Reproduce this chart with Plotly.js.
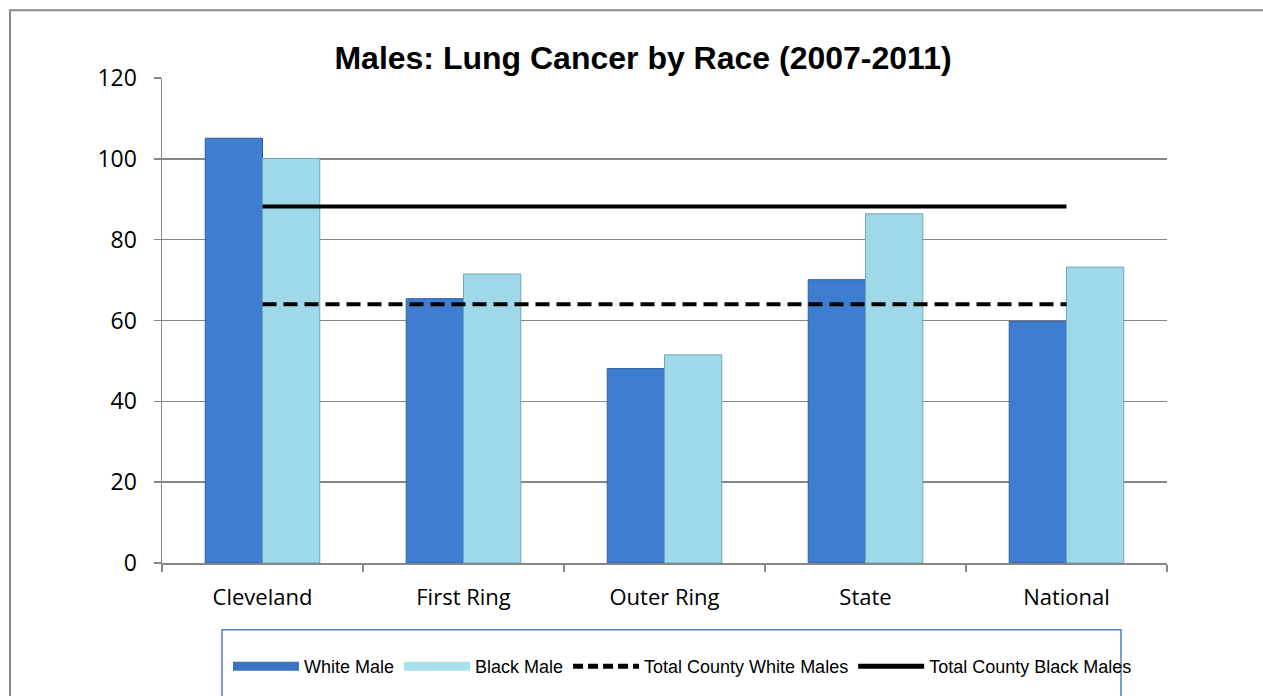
<!DOCTYPE html>
<html>
<head>
<meta charset="utf-8">
<script src="https://cdn.plot.ly/plotly-3.0.1.min.js"></script>
<style>
  html, body { margin: 0; padding: 0; background: #ffffff; }
  #chart { width: 1263px; height: 696px; }
</style>
</head>
<body>
<div id="chart"></div>
<script>
const categories = ["Cleveland", "First Ring", "Outer Ring", "State", "National"];
const whiteMale = [105.1, 65.4, 48.1, 70.1, 59.8];
const blackMale = [100.1, 71.5, 51.5, 86.4, 73.2];
const totalCountyWhite = 64.0;
const totalCountyBlack = 88.2;
const yTicks = [0, 20, 40, 60, 80, 100, 120];

const colWhite = "#3e7dd0";
const colBlack = "#9fd8e8";

const traces = [
  {
    type: "bar", name: "White Male", x: categories, y: whiteMale,
    marker: { color: colWhite, line: { color: "#2e5f9e", width: 1 } },
    showlegend: false, hoverinfo: "x+y"
  },
  {
    type: "bar", name: "Black Male", x: categories, y: blackMale,
    marker: { color: colBlack, line: { color: "#6fa8b8", width: 1 } },
    showlegend: false, hoverinfo: "x+y"
  },
  {
    type: "scatter", mode: "lines", name: "Total County White Males",
    x: categories, y: categories.map(() => totalCountyWhite),
    line: { color: "#000000", width: 4, dash: "14px,7px" },
    showlegend: false
  },
  {
    type: "scatter", mode: "lines", name: "Total County Black Males",
    x: categories, y: categories.map(() => totalCountyBlack),
    line: { color: "#000000", width: 4 },
    showlegend: false
  },
  // legend entries
  { type: "scatter", mode: "lines", name: "White Male", x: [null], y: [null],
    line: { color: "#3a74c2", width: 9 }, showlegend: true, hoverinfo: "skip" },
  { type: "scatter", mode: "lines", name: "Black Male", x: [null], y: [null],
    line: { color: "#a8e0ee", width: 9 }, showlegend: true, hoverinfo: "skip" },
  { type: "scatter", mode: "lines", name: "Total County White Males", x: [null], y: [null],
    line: { color: "#000000", width: 5, dash: "10px,5px" }, showlegend: true, hoverinfo: "skip" },
  { type: "scatter", mode: "lines", name: "Total County Black Males", x: [null], y: [null],
    line: { color: "#000000", width: 5 }, showlegend: true, hoverinfo: "skip" }
];

const L = 162, R = 96, T = 78, B = 132;
const pw = 1263 - L - R, ph = 696 - T - B;
const px = v => (v - L) / pw;
const py = v => (696 - B - v) / ph;

const layout = {
  width: 1263, height: 696,
  margin: { l: L, r: R, t: T, b: B, pad: 0 },
  paper_bgcolor: "#ffffff", plot_bgcolor: "#ffffff",
  title: {
    text: "<b>Males: Lung Cancer by Race (2007-2011)</b>",
    font: { family: "Liberation Sans, Arial, sans-serif", size: 32, color: "#000000" },
    xref: "paper", x: px(643), xanchor: "center",
    yref: "container", y: 1 - 58 / 696, yanchor: "middle"
  },
  barmode: "group", bargap: 0.43, bargroupgap: 0,
  xaxis: {
    type: "category",
    showline: true, linecolor: "#868686", linewidth: 1.5,
    ticks: "outside", tickson: "boundaries", ticklen: 7, tickcolor: "#868686", tickwidth: 1.5,
    showgrid: false, zeroline: false,
    ticklabelstandoff: 14,
    tickfont: { family: "Open Sans, sans-serif", size: 22, color: "#000000" }
  },
  yaxis: {
    range: [0, 120], tickvals: yTicks, ticktext: yTicks.map(String),
    showline: true, linecolor: "#868686", linewidth: 1.5,
    ticks: "outside", ticklen: 7, tickcolor: "#868686", tickwidth: 1.5,
    showgrid: true, gridcolor: "#868686", gridwidth: 1.5,
    zeroline: false,
    ticklabelstandoff: 12,
    tickfont: { family: "Open Sans, sans-serif", size: 23, color: "#000000" }
  },
  showlegend: true,
  legend: {
    orientation: "h", x: px(228), xanchor: "left", y: py(648), yanchor: "top",
    font: { family: "Liberation Sans, Arial, sans-serif", size: 18, color: "#000000" },
    bgcolor: "rgba(0,0,0,0)", borderwidth: 0,
    itemwidth: 66, tracegroupgap: 0, traceorder: "normal"
  },
  shapes: [
    { type: "rect", xref: "paper", yref: "paper",
      x0: px(10), x1: px(1300), y0: py(760), y1: py(10),
      line: { color: "#8a8a8a", width: 2 }, fillcolor: "rgba(0,0,0,0)", layer: "below" },
    { type: "rect", xref: "paper", yref: "paper",
      x0: px(222), x1: px(1121), y0: py(740), y1: py(631),
      line: { color: "#4f81bd", width: 1.5 }, fillcolor: "rgba(0,0,0,0)", layer: "above" }
  ]
};

Plotly.newPlot("chart", traces, layout, { displayModeBar: false, staticPlot: true });
</script>
</body>
</html>
